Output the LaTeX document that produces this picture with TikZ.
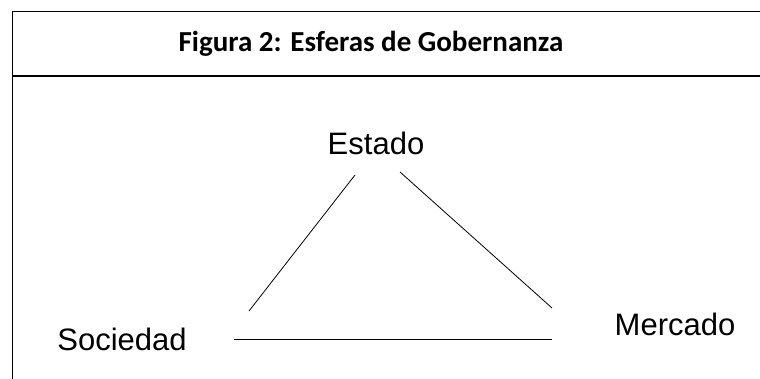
\documentclass[tikz,border=0pt]{standalone}
\usepackage{fontspec}
\setmainfont{Liberation Sans}
\newfontfamily\titlefont{Carlito}
\begin{document}
\begin{tikzpicture}[x=1pt,y=-1pt,
  sphere/.style={font=\fontsize{31}{36}\selectfont,inner sep=0pt,anchor=base},
  link/.style={line width=0.8pt}]
\useasboundingbox (0,0) rectangle (760,379);
% marco
\draw[line width=1pt] (12,379) -- (12,12) -- (760,12);
\draw[line width=1.6pt] (12,76) -- (760,76);
\node[inner sep=0pt,anchor=base] (titulo) at (371,52) {\titlefont\bfseries\fontsize{29}{34}\selectfont Figura 2: Esferas de Gobernanza};

\node[sphere] (estado) at (376,155) {Estado};
\node[sphere] (sociedad) at (122,350) {Sociedad};
\node[sphere] (mercado) at (675,335) {Mercado};

\coordinate (es) at (355,175);
\coordinate (se) at (249,311);
\coordinate (em) at (400,172);
\coordinate (me) at (552,308);
\coordinate (sm) at (234,339);
\coordinate (ms) at (552,339);
\draw[link] (es) -- (se);
\draw[link] (em) -- (me);
\draw[link] (sm) -- (ms);
\end{tikzpicture}
\end{document}
